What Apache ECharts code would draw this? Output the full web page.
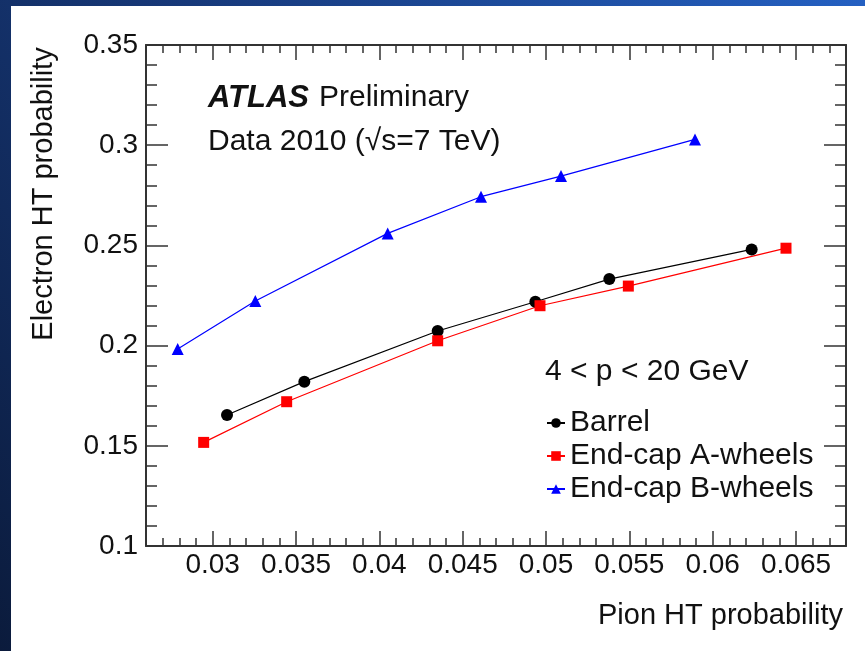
<!DOCTYPE html>
<html>
<head>
<meta charset="utf-8">
<script src="https://cdn.jsdelivr.net/npm/echarts@6/dist/echarts.min.js"></script>
<style>
  html, body { margin: 0; padding: 0; }
  #chart { width: 865px; height: 651px; }
</style>
</head>
<body>
<div id="chart"></div>
<script>
// pion HT probability (x) vs electron HT probability (y)
var barrelX = [0.03086, 0.0355, 0.0435, 0.04936, 0.0538, 0.06234]
var barrelY = [0.1654, 0.1820, 0.2073, 0.2219, 0.2332, 0.2480]
var endcapAX = [0.02946, 0.03444, 0.0435, 0.04964, 0.05494, 0.0644]
var endcapAY = [0.1517, 0.1720, 0.2024, 0.2199, 0.2297, 0.2486]
var endcapBX = [0.0279, 0.03256, 0.0405, 0.0461, 0.0509, 0.05894]
var endcapBY = [0.1983, 0.2223, 0.2560, 0.2743, 0.2846, 0.3029]
var seriesNames = ['Barrel', 'End-cap A-wheels', 'End-cap B-wheels']
var xTickValues = [0.03, 0.035, 0.04, 0.045, 0.05, 0.055, 0.06, 0.065]

var FONT = '"Liberation Sans", Arial, Helvetica, sans-serif'
var AX = '#333'

function pairs (xs, ys) {
  return xs.map(function (x, i) { return [x, ys[i]] })
}

var chart = echarts.init(document.getElementById('chart'))

function xAx (pos, major, labels) {
  var a = {
    type: 'value', position: pos, min: 0.026, max: 0.068,
    splitLine: { show: false },
    axisLine: { show: !major, lineStyle: { color: AX, width: 2 } },
    axisTick: { inside: true, length: major ? 15 : 8, lineStyle: { color: AX, width: 1.5 } },
    axisLabel: { show: false }
  }
  if (major) {
    a.axisTick.customValues = xTickValues
    if (labels) {
      a.axisLabel = {
        show: true, customValues: xTickValues, margin: 5,
        color: '#111', fontSize: 28, fontFamily: FONT
      }
    }
  } else {
    a.interval = 0.001
  }
  return a
}

function yAx (pos, labels) {
  return {
    type: 'value', position: pos, min: 0.1, max: 0.35, interval: 0.05,
    splitLine: { show: false },
    axisLine: { show: true, lineStyle: { color: AX, width: 2 } },
    axisTick: { inside: true, length: 22, lineStyle: { color: AX, width: 1.5 } },
    minorTick: { show: true, splitNumber: 5, length: 11, lineStyle: { color: AX, width: 1.5 } },
    axisLabel: { show: labels, margin: 8, color: '#111', fontSize: 28, fontFamily: FONT }
  }
}

var option = {
  animation: false,
  grid: { left: 146, top: 45, right: 19, bottom: 105 },
  xAxis: [
    xAx('bottom', false, false),
    xAx('bottom', true, true),
    xAx('top', false, false),
    xAx('top', true, false)
  ],
  yAxis: [yAx('left', true), yAx('right', false)],
  legend: {
    orient: 'vertical', left: 546, top: 408, padding: 0, itemGap: 3,
    itemWidth: 18, itemHeight: 12,
    textStyle: { fontSize: 30, fontFamily: FONT, color: '#111' },
    data: seriesNames
  },
  graphic: [
    {
      type: 'rect', z: -10, silent: true,
      shape: { x: 0, y: 0, width: 865, height: 651 },
      style: {
        fill: new echarts.graphic.LinearGradient(0, 1, 1, 0, [
          { offset: 0, color: '#0b1b3c' },
          { offset: 0.5, color: '#17397a' },
          { offset: 1, color: '#2460c2' }
        ])
      }
    },
    {
      type: 'rect', z: -9, silent: true,
      shape: { x: 11, y: 6, width: 854, height: 645 },
      style: { fill: '#fff' }
    },
    {
      type: 'text', x: 208, y: 98, silent: true,
      style: {
        text: '{a|ATLAS}   {b|Preliminary}', verticalAlign: 'middle',
        rich: {
          a: { fontSize: 31, fontWeight: 'bold', fontStyle: 'italic', fontFamily: FONT, fill: '#111' },
          b: { fontSize: 30, fontFamily: FONT, fill: '#111' }
        }
      }
    },
    {
      type: 'text', x: 208, y: 142, silent: true,
      style: { text: 'Data 2010 (√s=7 TeV)', verticalAlign: 'middle', fontSize: 30, fontFamily: FONT, fill: '#111' }
    },
    {
      type: 'text', x: 545, y: 372, silent: true,
      style: { text: '4 < p < 20 GeV', verticalAlign: 'middle', fontSize: 30, fontFamily: FONT, fill: '#111' }
    },
    {
      type: 'text', x: 843, y: 616, silent: true,
      style: { text: 'Pion HT probability', align: 'right', verticalAlign: 'middle', fontSize: 29, fontFamily: FONT, fill: '#111' }
    },
    {
      type: 'text', x: 44, y: 194, rotation: Math.PI / 2, silent: true,
      style: { text: 'Electron HT probability', align: 'center', verticalAlign: 'middle', fontSize: 29, fontFamily: FONT, fill: '#111' }
    }
  ],
  series: [
    {
      name: seriesNames[0], type: 'line', symbol: 'circle', symbolSize: 12,
      itemStyle: { color: '#000' }, lineStyle: { color: '#000', width: 1.2 },
      data: pairs(barrelX, barrelY)
    },
    {
      name: seriesNames[1], type: 'line', symbol: 'rect', symbolSize: 11,
      itemStyle: { color: '#ff0000' }, lineStyle: { color: '#ff0000', width: 1.2 },
      data: pairs(endcapAX, endcapAY)
    },
    {
      name: seriesNames[2], type: 'line', symbol: 'triangle', symbolSize: 12,
      itemStyle: { color: '#0000ff' }, lineStyle: { color: '#0000ff', width: 1.2 },
      data: pairs(endcapBX, endcapBY)
    }
  ]
}

option && chart.setOption(option)
</script>
</body>
</html>
